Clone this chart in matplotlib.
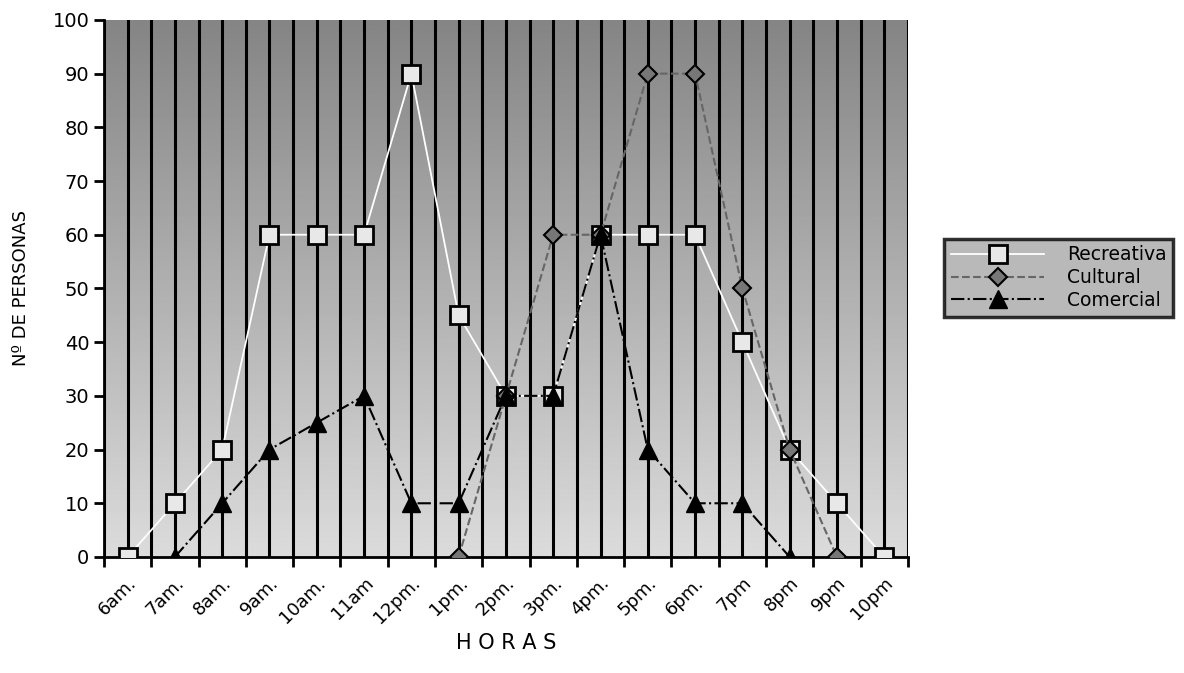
import numpy as np
import matplotlib.pyplot as plt
import matplotlib.transforms as mtransforms

horas = ['6am.', '7am.', '8am.', '9am.', '10am.', '11am', '12pm.', '1pm.', '2pm.',
         '3pm.', '4pm.', '5pm.', '6pm.', '7pm', '8pm', '9pm', '10pm']
nan = np.nan
recreativa = [0, 10, 20, 60, 60, 60, 90, 45, 30, 30, 60, 60, 60, 40, 20, 10, 0]
cultural = [nan, nan, nan, nan, nan, nan, nan, 0, 30, 60, 60, 90, 90, 50, 20, 0, nan]
comercial = [nan, 0, 10, 20, 25, 30, 10, 10, 30, 30, 60, 20, 10, 10, 0, nan, nan]

x = np.arange(len(horas))

fig = plt.figure(figsize=(11.84, 6.73), dpi=100)
ax = fig.add_axes([0.0878, 0.1724, 0.679, 0.798])

# gray gradient background, darker at top
grad = np.linspace(0.86, 0.52, 256).reshape(-1, 1)
ax.imshow(grad, cmap='gray', vmin=0, vmax=1, aspect='auto',
          extent=[-0.5, len(horas) - 0.5, 0, 100], origin='lower', zorder=0)

for v in np.arange(-0.5, len(horas), 0.5):
    ax.axvline(v, color='black', lw=2.2, zorder=1)

ax.plot(x, recreativa, color='white', lw=1.3, marker='s', ms=13,
        mfc='#e8e8e8', mec='black', mew=2, label='Recreativa', zorder=3)
ax.plot(x, cultural, color='#666666', lw=1.5, ls='--', marker='D', ms=9,
        mfc='#777777', mec='black', mew=1.5, label='Cultural', zorder=4)
ax.plot(x, comercial, color='black', lw=1.5, ls='-.', marker='^', ms=13,
        mfc='black', mec='black', label='Comercial', zorder=5)

ax.set_xlim(-0.5, len(horas) - 0.5)
ax.set_ylim(0, 100)
ax.set_yticks(range(0, 101, 10))
ax.set_xticks(x)
ax.set_xticklabels(horas, rotation=45, ha='right', rotation_mode='anchor', fontsize=13)
offset = mtransforms.ScaledTranslation(-10 / 100, 0, fig.dpi_scale_trans)
for lab in ax.get_xticklabels():
    lab.set_transform(lab.get_transform() + offset)
ax.set_xticks(np.arange(-0.5, len(horas), 1), minor=True)
ax.tick_params(axis='x', which='major', length=0, pad=12)
ax.tick_params(axis='x', which='minor', length=7, width=2, direction='out')
ax.tick_params(axis='y', length=7, width=2, labelsize=14)
for s in ['top', 'right']:
    ax.spines[s].set_visible(False)
ax.spines['left'].set_linewidth(2)
ax.spines['bottom'].set_linewidth(2)

ax.set_ylabel('Nº DE PERSONAS', fontsize=13, labelpad=16)
ax.set_xlabel('H O R A S', fontsize=15, labelpad=4)

leg = ax.legend(loc='center left', bbox_to_anchor=(1.045, 0.52), fontsize=13.5,
                frameon=True, fancybox=False, handlelength=5, handletextpad=1.2,
                borderpad=0.35, labelspacing=0.2, borderaxespad=0)
leg.get_frame().set_facecolor('#a8a8a8')
leg.get_frame().set_edgecolor('black')
leg.get_frame().set_linewidth(2.5)

fig.savefig('out.png', dpi=100)
